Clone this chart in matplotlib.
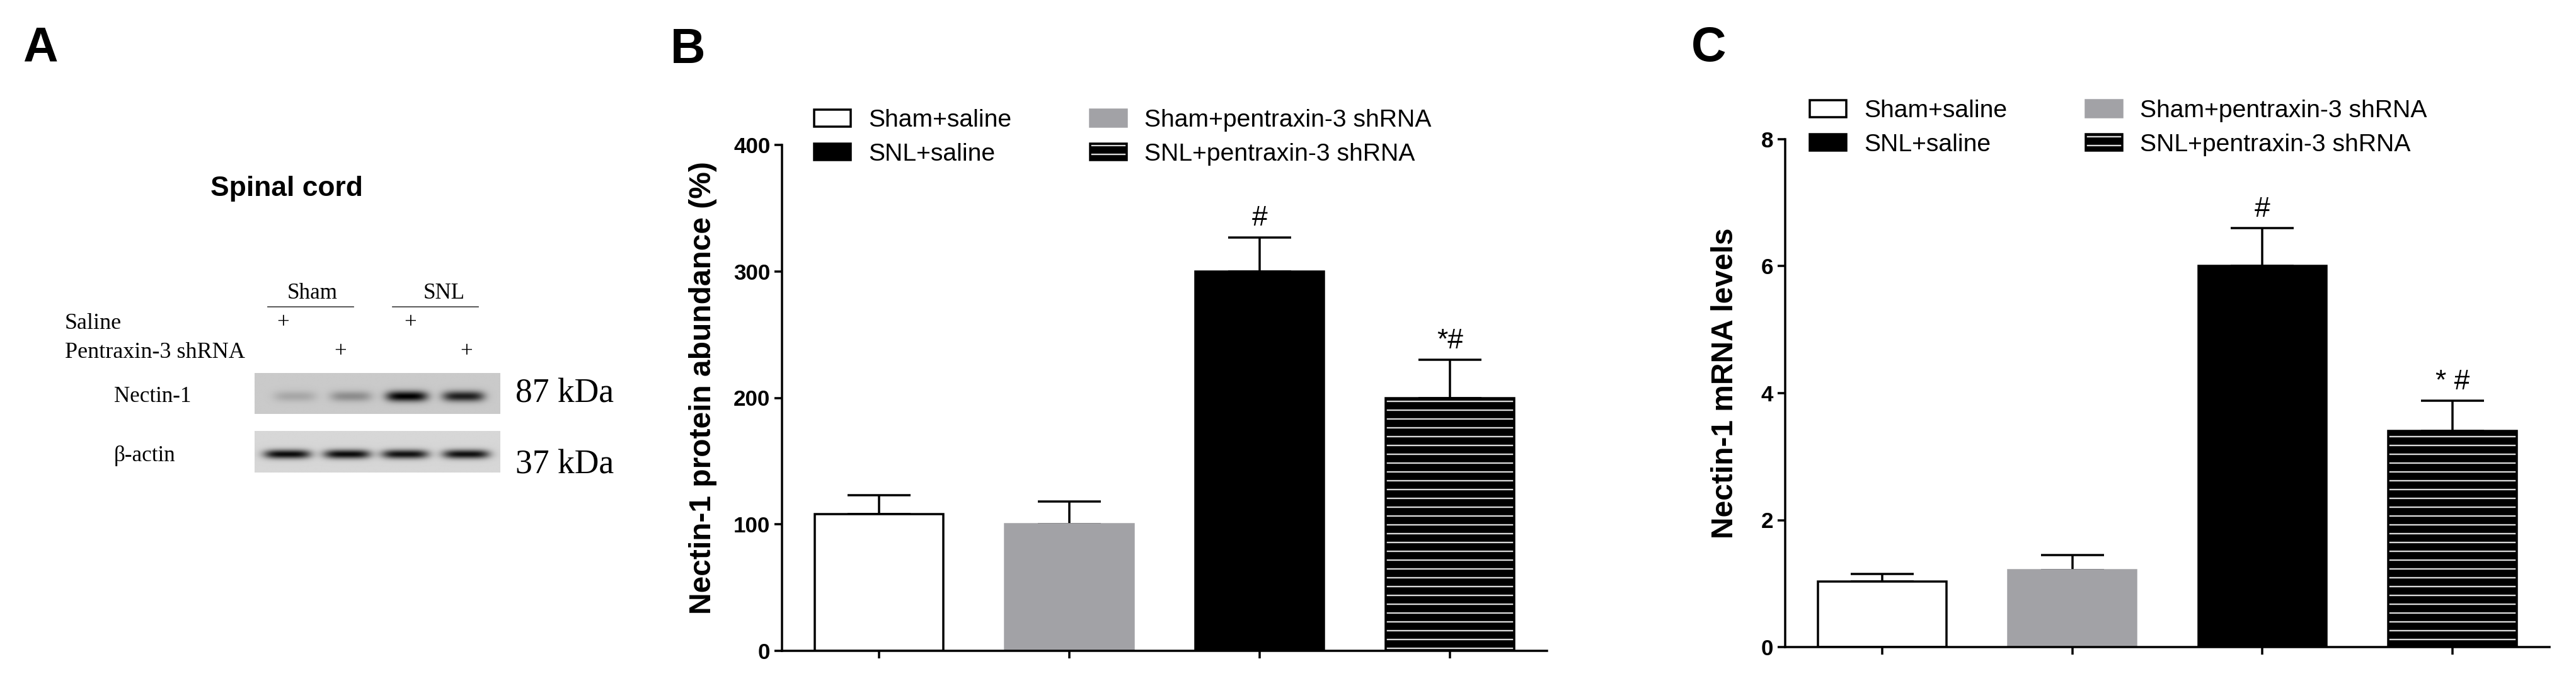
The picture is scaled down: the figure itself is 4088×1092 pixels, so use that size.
import numpy as np
import matplotlib.pyplot as plt
from matplotlib.patches import Patch
from matplotlib.lines import Line2D
from matplotlib.legend_handler import HandlerTuple

plt.rcParams['font.family'] = ['Liberation Sans', 'DejaVu Sans']
plt.rcParams['hatch.linewidth'] = 2.0

# ---- data ----
groups = ['Sham+saline', 'Sham+pentraxin-3 shRNA', 'SNL+saline', 'SNL+pentraxin-3 shRNA']
protein_mean = [108, 100, 300, 200]
protein_sem = [15, 18, 27, 30]
protein_marks = ['', '', '#', '*#']
protein_ticks = [0, 100, 200, 300, 400]

mrna_mean = [1.03, 1.21, 6.0, 3.4]
mrna_sem = [0.12, 0.24, 0.6, 0.48]
mrna_marks = ['', '', '#', '* #']
mrna_ticks = [0, 2, 4, 6, 8]

# western blot band strength per lane (0 = no band, 1 = saturated)
nectin_band = [0.17, 0.3, 1.0, 0.85]
actin_band = [0.95, 0.95, 0.92, 0.93]
nectin_lanes = [0.164, 0.392, 0.62, 0.851]
actin_lanes = [0.133, 0.377, 0.613, 0.862]

W, H, DPI = 4088, 1092, 84
fig = plt.figure(figsize=(W / DPI, H / DPI), dpi=DPI)


def px_axes(l, t, r, b):
    return fig.add_axes([l / W, 1 - b / H, (r - l) / W, (b - t) / H])


def ftext(x, y, s, **kw):
    fig.text(x / W, 1 - y / H, s, **kw)


serif = ['Liberation Serif', 'DejaVu Serif']
gray = '#a2a2a6'
hatch_col = '#d9d9d9'


def bar_panel(ax, means, sems, marks, ticks, ylabel, label_x, leg_xy):
    x = np.arange(len(means))
    w = 0.675
    ax.bar(x[0], means[0], w, facecolor='white', edgecolor='black', linewidth=3)
    ax.bar(x[1], means[1], w, facecolor=gray, edgecolor=gray, linewidth=3)
    ax.bar(x[2], means[2], w, facecolor='black', edgecolor='black', linewidth=3)
    ax.bar(x[3], means[3], w, facecolor='black', edgecolor=hatch_col, hatch='-', linewidth=0)
    ax.bar(x[3], means[3], w, fill=False, edgecolor='black', linewidth=3)
    ax.errorbar(x, means, yerr=[np.zeros(len(means)), sems], fmt='none', ecolor='black',
                elinewidth=3, capsize=43, capthick=3, zorder=0.5)
    for xi, m, s, t in zip(x, means, sems, marks):
        if t:
            ax.annotate(t, (xi, m + s), xytext=(0, 8), textcoords='offset points',
                        ha='center', va='bottom', fontsize=38)

    ax.set_xlim(-0.51, 3.51)
    ax.set_ylim(ticks[0], ticks[-1])
    ax.set_yticks(ticks)
    ax.set_xticks(x)
    ax.set_xticklabels([])
    for sp in ['top', 'right']:
        ax.spines[sp].set_visible(False)
    for sp in ['left', 'bottom']:
        ax.spines[sp].set_linewidth(3)
    ax.tick_params(axis='y', direction='out', length=10, width=3, labelsize=30, pad=6)
    ax.tick_params(axis='x', direction='out', length=10, width=3)
    for lbl in ax.get_yticklabels():
        lbl.set_fontweight('bold')
    ax.set_ylabel(ylabel, fontsize=41, fontweight='bold', va='center')
    ax.yaxis.set_label_coords(label_x, 0.52)

    handles = [
        Patch(facecolor='white', edgecolor='black', linewidth=3),
        Patch(facecolor=gray, edgecolor=gray, linewidth=3),
        Patch(facecolor='black', edgecolor='black', linewidth=3),
        (Patch(facecolor='black', edgecolor=hatch_col, hatch='-', linewidth=0),
         Patch(fill=False, edgecolor='black', linewidth=3)),
    ]
    order = [0, 2, 1, 3]
    ax.legend([handles[i] for i in order], [groups[i] for i in order], ncol=2,
              loc='upper left', bbox_to_anchor=leg_xy, frameon=False, fontsize=33.5,
              handlelength=1.49, handleheight=0.67, handletextpad=0.72,
              columnspacing=3.18, labelspacing=0.45, borderpad=0, borderaxespad=0,
              handler_map={tuple: HandlerTuple(ndivide=1, pad=0)})


axB = px_axes(1241, 230, 2455, 1033)
bar_panel(axB, protein_mean, protein_sem, protein_marks, protein_ticks,
          'Nectin-1 protein abundance (%)', -0.103, (0.042, 1.071))

axC = px_axes(2833, 221, 4046, 1027)
bar_panel(axC, mrna_mean, mrna_sem, mrna_marks, mrna_ticks,
          'Nectin-1 mRNA levels', -0.079, (0.032, 1.078))


# ---- panel A: western blot ----
def blot(ax, bands, lanes, half_w, y_c, thick, bg):
    X, Y = np.meshgrid(np.linspace(0, 1, 400), np.linspace(0, 1, 90))
    img = np.full(X.shape, bg)
    for c, b in zip(lanes, bands):
        img -= bg * b * np.exp(-((X - c) / half_w) ** 4) * np.exp(-((Y - y_c) / thick) ** 2)
    ax.imshow(img, cmap='gray', vmin=0, vmax=1, aspect='auto', extent=(0, 1, 1, 0))
    ax.axis('off')


blot(px_axes(404, 592, 794, 657), nectin_band, nectin_lanes, 0.085, 0.57, 0.13, 0.79)
blot(px_axes(404, 684, 794, 750), actin_band, actin_lanes, 0.095, 0.56, 0.11, 0.84)

ftext(64, 77, 'A', fontsize=66, fontweight='bold', ha='center', va='center')
ftext(1092, 80, 'B', fontsize=66, fontweight='bold', ha='center', va='center')
ftext(2712, 77, 'C', fontsize=66, fontweight='bold', ha='center', va='center')

ftext(455, 299, 'Spinal cord', fontsize=38, fontweight='bold', ha='center', va='center')
ftext(496, 465, 'Sham', family=serif, fontsize=30, ha='center', va='center')
ftext(705, 465, 'SNL', family=serif, fontsize=30, ha='center', va='center')
fig.add_artist(Line2D([425 / W, 561 / W], [1 - 487 / H] * 2, color='#444444', lw=1.5))
fig.add_artist(Line2D([623 / W, 759 / W], [1 - 487 / H] * 2, color='#444444', lw=1.5))
ftext(103, 513, 'Saline', family=serif, fontsize=31, ha='left', va='center')
ftext(103, 559, 'Pentraxin-3 shRNA', family=serif, fontsize=31, ha='left', va='center')
for px in [449, 651]:
    ftext(px, 513, '+', family=serif, fontsize=30, ha='center', va='center')
for px in [540, 740]:
    ftext(px, 559, '+', family=serif, fontsize=30, ha='center', va='center')
ftext(181, 630, 'Nectin-1', family=serif, fontsize=30, ha='left', va='center')
ftext(181, 724, 'β-actin', family=serif, fontsize=30, ha='left', va='center')
ftext(818, 625, '87 kDa', family=serif, fontsize=46, ha='left', va='center')
ftext(818, 738, '37 kDa', family=serif, fontsize=46, ha='left', va='center')

fig.savefig('out.png', dpi=DPI)
